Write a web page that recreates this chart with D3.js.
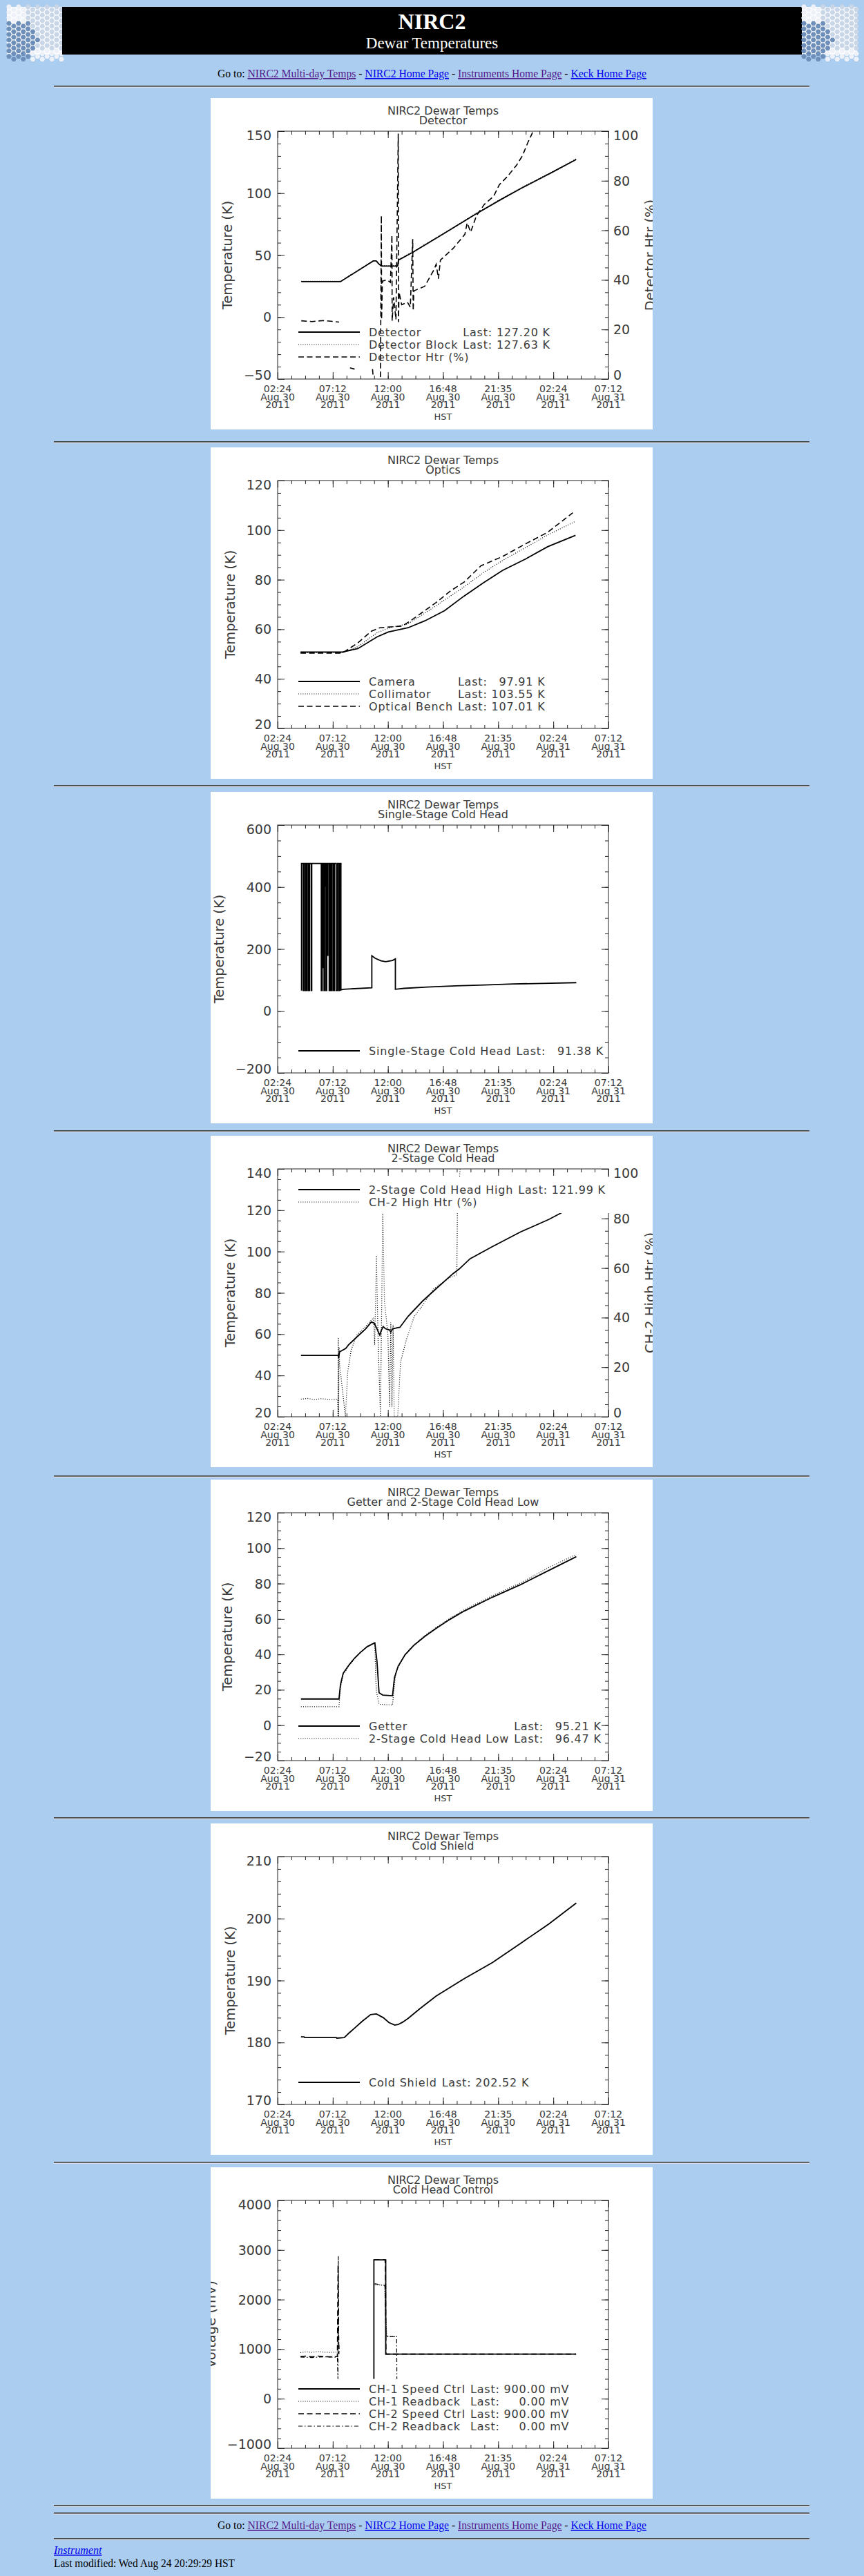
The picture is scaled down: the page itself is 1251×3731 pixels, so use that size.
<!DOCTYPE html>
<html>
<head>
<meta charset="utf-8">
<title>NIRC2 Dewar Temperatures</title>
<script src="https://cdn.jsdelivr.net/npm/d3@7"></script>
<style>
html, body { margin: 0; padding: 0; background: #abcdef; }
svg { display: block; }
.pg { font-family: "Liberation Serif", "Times New Roman", serif; }
.ch { font-family: "DejaVu Sans", sans-serif; fill: #3a3a3a; }
</style>
</head>
<body>
<svg id="page" width="1251" height="3731"></svg>
<script>
// hours after 02:24 HST, Aug 30 2011
const xTickHours = [0, 4.8, 9.6, 14.4, 19.2, 24, 28.8];
const xTickTimes = ['02:24', '07:12', '12:00', '16:48', '21:35', '02:24', '07:12'];
const xTickDays = ['Aug 30', 'Aug 30', 'Aug 30', 'Aug 30', 'Aug 30', 'Aug 31', 'Aug 31'];
const xTickYears = ['2011', '2011', '2011', '2011', '2011', '2011', '2011'];

// detector
const detectorTemp = [[2.06,28.6],[5.47,28.6],[8.33,45.3],[8.58,45.3],[8.8,43],[9.03,41.2],[10.45,41.2],[10.52,46.0],[11.76,52.2],[14.5,67.5],[17.28,83.3],[19.5,95.2],[21.26,104.2],[23.75,116.1],[25.99,127.2]];
const detectorBlockTemp = [[2.06,28.9],[5.47,28.9],[8.33,45.5],[8.58,45.4],[8.8,43.3],[9.03,41.5],[10.45,41.4],[10.52,46.3],[11.76,52.6],[14.5,67.9],[17.28,83.7],[19.5,95.6],[21.26,104.6],[23.75,116.5],[25.99,127.6]];
const detectorHtr = [[2.06,23.5],[3.0,23.2],[4.0,23.6],[5.35,23.0],null,[6.3,4.5],[6.7,4.0],null,[8.26,4.0],[8.3,1.8],null,[8.95,0.8],[9.03,66],[9.05,24],[9.12,39.5],[9.5,40],[9.82,39],[9.95,58],[9.97,23.5],[10.1,33],[10.3,24],[10.5,99],[10.52,23],[10.57,35],[10.8,30],[11.3,31],[11.55,29],[11.76,56.5],[11.8,27.6],[11.86,35.6],[12.8,37.4],[13.6,44],[13.8,46.3],[14.0,40.5],[14.17,48],[15.3,52.8],[16.3,58.4],[16.5,63],[16.8,59.3],[17.3,65.8],[18.0,70.5],[18.8,73.7],[19.3,78.4],[20.0,81.7],[20.8,86.3],[21.3,90],[21.8,95.6],[22.3,100.5]];

// optics
const cameraTemp = [[1.99,50.8],[5.64,50.8],[6.98,52.2],[8.65,56.9],[9.63,58.9],[11.35,60.6],[12.82,63.4],[14.53,67.5],[16.2,73.3],[17.9,78.7],[19.6,83.8],[21.6,88.4],[23.5,93.3],[25.93,97.9]];
const collimatorTemp = [[1.99,50.5],[5.64,50.5],[6.98,53],[8.65,58.6],[9.87,60.8],[11.35,62.2],[12.82,66.5],[14.53,71.8],[16.2,77],[17.9,82.8],[19.6,87.8],[21.6,93],[23.5,98],[25.93,103.55]];
const benchTemp = [[1.99,50.4],[5.64,50.4],[6.98,54.5],[8.16,59.2],[8.9,60.6],[10.86,61.3],[11.84,64.3],[13.8,70.8],[15.03,75.4],[16.25,79.1],[17.7,85.6],[19.6,89.4],[21.6,94.5],[23.5,99.1],[25.7,107.0]];

// single-stage cold head
const singleStageTemp = [[2.08,66],[2.08,476],[2.23,476],[2.23,66],[2.33,66],[2.33,476],[2.45,476],[2.45,66],[2.55,66],[2.55,476],[2.67,476],[2.67,66],[2.77,66],[2.77,476],[2.92,476],[2.92,66],[2.97,66],[2.97,476],[3.80,476],[3.80,66],[3.88,66],[3.88,476],[3.95,476],[3.95,140],[4.00,140],[4.00,476],[4.04,476],[4.04,66],[4.09,66],[4.09,476],[4.14,476],[4.14,403],[4.17,403],[4.17,476],[4.21,476],[4.21,66],[4.27,66],[4.27,476],[4.33,476],[4.33,180],[4.37,180],[4.37,476],[4.49,476],[4.49,66],[4.55,66],[4.55,476],[4.64,476],[4.64,66],[4.73,66],[4.73,476],[4.85,476],[4.85,66],[4.95,66],[4.95,476],[5.10,476],[5.10,66],[5.22,66],[5.22,476],[5.34,476],[5.34,66],[5.40,66],[5.40,476],[5.51,476],[5.51,68],[5.7,70],[8.2,75],[8.2,178],[8.5,170],[9.0,162],[9.4,159],[10.0,163],[10.25,168],[10.25,70],[11.0,73],[13.0,77],[15.5,81],[18.0,84],[20.5,87],[23.0,89],[26.0,91.4]];

// 2-stage cold head
const coldHeadHigh = [[2.03,49.7],[5.27,49.7],[5.3,48.5],[5.39,51.4],[5.93,53.1],[6.17,54.8],[6.91,58.7],[7.67,62.6],[8.16,65.9],[8.41,65.3],[8.65,62.6],[8.9,59.5],[9.0,61.5],[9.19,63.7],[9.39,62.6],[9.75,62.0],[9.85,61.0],[10.0,62.5],[10.4,63.1],[10.64,63.3],[11.37,68.7],[12.6,75.9],[13.8,82],[15.27,89.3],[15.8,91.5],[16.75,96.5],[18.7,102.4],[21.15,109.5],[23.6,115.5],[24.8,119],[25.98,122.0]];
const ch2HighHtr = [[2.03,7.1],[2.6,7.4],[3.2,6.9],[3.8,7.3],[4.5,7.0],[5.22,7.1],[5.25,0],[5.28,32],[5.31,0],[5.35,28],[5.4,21],[5.9,0],[6.1,18],[6.4,27],[6.9,33],[7.67,36.5],[8.16,39],[8.35,40],[8.45,29],[8.6,65],[8.75,30],[8.95,0],[9.15,82.8],[9.3,46.6],[9.45,40],[9.6,33],[9.75,4],[9.85,38],[9.95,4],[10.05,37],[10.15,0],[10.45,0],[10.7,22],[11.2,31],[11.9,40.6],[12.45,43.8],[13.6,51.7],[14.9,55.9],[15.6,57.3],[15.65,82.8],[15.9,101]];

// getter and 2-stage cold head low
const getterTemp = [[2.03,14.8],[5.34,14.8],[5.47,22.9],[5.71,29.4],[6.2,33.9],[6.69,37.8],[7.18,41],[7.79,44.3],[8.46,46.5],[8.65,35.9],[8.83,18.3],[9.15,17],[10.0,16.6],[10.17,26.8],[10.49,33.3],[11.1,39.8],[11.84,45],[12.82,50.2],[13.8,54.7],[15.03,59.9],[16.25,64.5],[18.7,72.3],[21.15,79.4],[23.6,87.4],[26.0,95.2]];
const coldHeadLow = [[2.03,10.5],[5.34,10.5],[5.45,20],[5.71,28.5],[6.2,33.5],[6.69,37.5],[7.18,41],[7.79,44.5],[8.46,46.7],[8.55,25],[8.6,19],[8.83,11.8],[10.0,11.4],[10.12,20],[10.3,30],[10.6,34],[11.1,40],[11.84,45.3],[12.82,50.6],[13.8,55.2],[15.03,60.5],[16.25,65.2],[18.7,73.2],[21.15,80.4],[23.6,89],[26.0,96.5]];

// cold shield
const coldShieldTemp = [[2.03,180.9],[2.3,180.9],[2.35,180.8],[5.1,180.8],[5.15,180.7],[5.8,180.8],[6.2,181.5],[6.69,182.3],[7.35,183.4],[8.1,184.5],[8.6,184.6],[9.2,184.0],[9.7,183.2],[10.2,182.8],[10.5,182.9],[10.9,183.3],[11.37,183.9],[12.35,185.4],[13.8,187.5],[16.25,190.3],[18.7,192.9],[21.15,196.0],[23.6,199.1],[26.0,202.5]];

// cold head control (mV)
const ch1Speed = [[8.38,400],[8.38,2800],[9.41,2800],[9.41,900],[25.98,900]];
const ch1Readback = [[1.99,930],[2.5,945],[3.0,935],[3.5,950],[4.0,940],[4.5,935],[5.2,940],null,[8.45,2300],[9.3,2290],[9.45,1500],[9.5,1260],[10.35,1250]];
const ch2Speed = [[1.99,850],[2.5,860],[3.0,845],[3.5,860],[4.0,850],[4.5,845],[5.2,850],[5.26,2700],[5.3,1400],[5.33,900],null,[8.4,2800],[9.35,2800],[9.38,2700],[9.4,2200],[9.43,900],[25.98,900]];
const ch2Readback = [[1.99,840],[3.0,830],[4.0,845],[5.2,835],[5.25,400],[5.28,2880],[5.32,1200],[5.36,900],null,[8.45,2320],[9.35,2280],[9.4,1600],[9.45,1250],[10.36,1250],[10.38,400]];

const panelTops = [142, 648, 1147, 1645, 2143, 2641, 3139];
const hrTops = [124, 639, 1137, 1637, 2137, 2632, 3131, 3628, 3639, 3676];

const navLinks = [
  { text: 'NIRC2 Multi-day Temps', color: '#551a8b' },
  { text: 'NIRC2 Home Page', color: '#0000ee' },
  { text: 'Instruments Home Page', color: '#551a8b' },
  { text: 'Keck Home Page', color: '#0000ee' }
];

const charts = [
  { title: 'Detector', y: [-50, 150], major: 50, minor: 10, yTitle: 'Temperature (K)',
    right: 'Detector Htr (%)',
    series: [
      { data: detectorTemp, style: 'solid' },
      { data: detectorBlockTemp, style: 'dotted' },
      { data: detectorHtr, style: 'dashed', right: true }
    ],
    legend: [
      { name: 'Detector', last: 127.20, unit: 'K', style: 'solid' },
      { name: 'Detector Block', last: 127.63, unit: 'K', style: 'dotted' },
      { name: 'Detector Htr (%)', style: 'dashed' }
    ] },
  { title: 'Optics', y: [20, 120], major: 20, minor: 5, yTitle: 'Temperature (K)',
    series: [
      { data: cameraTemp, style: 'solid' },
      { data: collimatorTemp, style: 'dotted' },
      { data: benchTemp, style: 'dashed' }
    ],
    legend: [
      { name: 'Camera', last: 97.91, unit: 'K', style: 'solid' },
      { name: 'Collimator', last: 103.55, unit: 'K', style: 'dotted' },
      { name: 'Optical Bench', last: 107.01, unit: 'K', style: 'dashed' }
    ] },
  { title: 'Single-Stage Cold Head', y: [-200, 600], major: 200, minor: 50, yTitle: 'Temperature (K)',
    series: [{ data: singleStageTemp, style: 'solid' }],
    legend: [{ name: 'Single-Stage Cold Head', last: 91.38, unit: 'K', style: 'solid' }] },
  { title: '2-Stage Cold Head', y: [20, 140], major: 20, minor: 5, yTitle: 'Temperature (K)',
    right: 'CH-2 High Htr (%)', legendTop: true, erase: true,
    series: [
      { data: coldHeadHigh, style: 'solid' },
      { data: ch2HighHtr, style: 'dotted', right: true }
    ],
    legend: [
      { name: '2-Stage Cold Head High', last: 121.99, unit: 'K', style: 'solid' },
      { name: 'CH-2 High Htr (%)', style: 'dotted' }
    ] },
  { title: 'Getter and 2-Stage Cold Head Low', y: [-20, 120], major: 20, minor: 5, yTitle: 'Temperature (K)',
    series: [
      { data: getterTemp, style: 'solid' },
      { data: coldHeadLow, style: 'dotted' }
    ],
    legend: [
      { name: 'Getter', last: 95.21, unit: 'K', style: 'solid' },
      { name: '2-Stage Cold Head Low', last: 96.47, unit: 'K', style: 'dotted' }
    ] },
  { title: 'Cold Shield', y: [170, 210], major: 10, minor: 2, yTitle: 'Temperature (K)',
    series: [{ data: coldShieldTemp, style: 'solid' }],
    legend: [{ name: 'Cold Shield', last: 202.52, unit: 'K', style: 'solid' }] },
  { title: 'Cold Head Control', y: [-1000, 4000], major: 1000, minor: 200, yTitle: 'Voltage (mV)',
    series: [
      { data: ch1Speed, style: 'solid' },
      { data: ch1Readback, style: 'dotted' },
      { data: ch2Speed, style: 'dashed' },
      { data: ch2Readback, style: 'dashdot' }
    ],
    legend: [
      { name: 'CH-1 Speed Ctrl', last: 900.00, unit: 'mV', style: 'solid' },
      { name: 'CH-1 Readback', last: 0.00, unit: 'mV', style: 'dotted' },
      { name: 'CH-2 Speed Ctrl', last: 900.00, unit: 'mV', style: 'dashed' },
      { name: 'CH-2 Readback', last: 0.00, unit: 'mV', style: 'dashdot' }
    ] }
];

const PW = 640, PH = 480, PX = 305;
const plot = { l: 97, r: 576, t: 48, b: 407 };
const AX = '#222';
const STYLES = {
  solid: { w: 1.8, dash: null },
  dotted: { w: 1.2, dash: '1 2.2' },
  dashed: { w: 1.6, dash: '8 4.5' },
  dashdot: { w: 1.2, dash: '6 3 1.5 3' }
};

const svg = d3.select('#page');
const defs = svg.append('defs');

function lineStyle(sel, name) {
  const s = STYLES[name];
  sel.attr('fill', 'none').attr('stroke', '#000').attr('stroke-width', s.w);
  if (s.dash) sel.attr('stroke-dasharray', s.dash);
}

function hr(y) {
  svg.append('rect').attr('x', 78).attr('y', y).attr('width', 1094).attr('height', 1).attr('fill', '#444');
  svg.append('rect').attr('x', 78).attr('y', y + 1).attr('width', 1094).attr('height', 1).attr('fill', '#777');
  svg.append('rect').attr('x', 78).attr('y', y + 2).attr('width', 1094).attr('height', 1).attr('fill', '#dde');
}

function logo(x0, y0) {
  const g = svg.append('g').attr('transform', `translate(${x0},${y0})`);
  g.append('rect').attr('width', 80).attr('height', 69).attr('fill', '#fff');
  const r = 4.6, dx = r * 1.5, dy = r * Math.sqrt(3);
  const hex = d3.range(6).map(k => [0.85 * r * Math.cos(k * Math.PI / 3), 0.85 * r * Math.sin(k * Math.PI / 3)]);
  const cells = [];
  for (let c = 0; c * dx < 82; c++) {
    for (let j = 0; j * dy < 74; j++) {
      cells.push([3 + c * dx, j * dy + (c % 2 ? dy / 2 : 0)]);
    }
  }
  g.selectAll('path').data(cells).join('path')
    .attr('transform', d => `translate(${d[0]},${d[1]})`)
    .attr('d', 'M' + hex.join('L') + 'Z')
    .attr('fill', d => {
      const [cx, cy] = d;
      if (cy > 20 && cx < 46 - Math.abs(cy - 46) * 0.55) return '#6d8fb9';
      if (cx > 26 && cy < 60) return '#c9d6e7';
      return '#eef2f8';
    });
}

function nav(y) {
  const t = svg.append('text').attr('class', 'pg').attr('x', 315).attr('y', y)
    .attr('font-size', 16).attr('textLength', 621).attr('lengthAdjust', 'spacingAndGlyphs');
  t.append('tspan').attr('fill', '#000').text('Go to: ');
  navLinks.forEach((d, i) => {
    if (i > 0) t.append('tspan').attr('fill', '#000').text(' - ');
    t.append('tspan').attr('fill', d.color).attr('text-decoration', 'underline').text(d.text);
  });
}

function drawPanel(c, k) {
  const g = svg.append('g').attr('transform', `translate(${PX},${panelTops[k]})`);
  defs.append('clipPath').attr('id', 'panel' + k).append('rect').attr('width', PW).attr('height', PH);
  defs.append('clipPath').attr('id', 'plot' + k).append('rect')
    .attr('x', plot.l).attr('y', plot.t).attr('width', plot.r - plot.l).attr('height', plot.b - plot.t);
  const p = g.append('g').attr('clip-path', `url(#panel${k})`);
  p.append('rect').attr('width', PW).attr('height', PH).attr('fill', '#fff');

  const x = d3.scaleLinear().domain([0, 28.8]).range([plot.l, plot.r]);
  const y = d3.scaleLinear().domain(c.y).range([plot.b, plot.t]);
  const y2 = d3.scaleLinear().domain([0, 100]).range([plot.b, plot.t]);
  const cx = (plot.l + plot.r) / 2, cy = (plot.t + plot.b) / 2;

  p.append('text').attr('class', 'ch').attr('font-size', 16).attr('text-anchor', 'middle')
    .attr('x', cx).attr('y', 24).text('NIRC2 Dewar Temps');
  p.append('text').attr('class', 'ch').attr('font-size', 16).attr('text-anchor', 'middle')
    .attr('x', cx).attr('y', 38).text(c.title);

  p.append('rect').attr('x', plot.l).attr('y', plot.t)
    .attr('width', plot.r - plot.l).attr('height', plot.b - plot.t)
    .attr('fill', 'none').attr('stroke', AX).attr('stroke-width', 1);

  const ticks = (axis, tr) => p.append('g').attr('transform', tr).attr('color', AX)
    .call(axis.tickFormat(''))
    .call(s => { s.select('.domain').remove(); s.selectAll('text').remove(); });

  const xMinor = d3.range(0, 28.81, 1.2);
  [[d3.axisBottom, plot.b], [d3.axisTop, plot.t]].forEach(([f, yy]) => {
    ticks(f(x).tickValues(xMinor).tickSize(-5), `translate(0,${yy})`);
    ticks(f(x).tickValues(xTickHours).tickSize(-10), `translate(0,${yy})`);
  });

  const yMaj = d3.range(c.y[0], c.y[1] + 1e-9, c.major);
  const yMin = d3.range(c.y[0], c.y[1] + 1e-9, c.minor);
  ticks(d3.axisLeft(y).tickValues(yMin).tickSize(-5), `translate(${plot.l},0)`);
  ticks(d3.axisLeft(y).tickValues(yMaj).tickSize(-10), `translate(${plot.l},0)`);
  const rScale = c.right ? y2 : y;
  const rMaj = c.right ? d3.range(0, 100.1, 20) : yMaj;
  const rMin = c.right ? d3.range(0, 100.1, 5) : yMin;
  ticks(d3.axisRight(rScale).tickValues(rMin).tickSize(-5), `translate(${plot.r},0)`);
  ticks(d3.axisRight(rScale).tickValues(rMaj).tickSize(-10), `translate(${plot.r},0)`);

  const fmt = d3.format('d');
  const shift = (i, n) => (i === 0 ? -6 : (i === n - 1 ? 6 : 0));
  const yl = p.selectAll('.yl').data(yMaj).join('text').attr('class', 'ch yl')
    .attr('font-size', 19).attr('text-anchor', 'end')
    .attr('x', plot.l - 9).attr('y', (d, i) => y(d) + 7 + shift(i, yMaj.length))
    .text(d => fmt(d));
  const labLeft = plot.l - 9 - d3.max(yl.nodes(), n => n.getComputedTextLength());
  p.append('text').attr('class', 'ch').attr('font-size', 19.5).attr('text-anchor', 'middle')
    .attr('transform', `translate(${labLeft - 17},${cy}) rotate(-90)`).text(c.yTitle);

  if (c.right) {
    p.selectAll('.rl').data(rMaj).join('text').attr('class', 'ch rl')
      .attr('font-size', 19).attr('x', plot.r + 7)
      .attr('y', (d, i) => y2(d) + 7 + shift(i, rMaj.length)).text(d => fmt(d));
    // the right title runs past the image edge and gets cut, as in the original
    p.append('text').attr('class', 'ch').attr('font-size', 19.5).attr('text-anchor', 'middle')
      .attr('transform', `translate(${PW + 3},${cy}) rotate(-90)`).text(c.right);
  }

  xTickHours.forEach((h, i) => {
    const t = p.append('text').attr('class', 'ch').attr('font-size', 14).attr('text-anchor', 'middle');
    [xTickTimes[i], xTickDays[i], xTickYears[i]].forEach((s, j) => {
      t.append('tspan').attr('x', x(h)).attr('y', plot.b + 19 + j * 11.5).text(s);
    });
  });
  p.append('text').attr('class', 'ch').attr('font-size', 13).attr('text-anchor', 'middle')
    .attr('x', cx).attr('y', plot.b + 59).text('HST');

  const lg = p.append('g').attr('clip-path', `url(#plot${k})`);
  c.series.forEach(s => {
    const sc = s.right ? y2 : y;
    const line = d3.line().defined(d => d != null).x(d => x(d[0])).y(d => sc(d[1]));
    lg.append('path').datum(s.data).attr('d', line).call(lineStyle, s.style);
  });

  if (c.erase) {
    p.append('rect').attr('x', plot.l + 22).attr('y', plot.t + 12)
      .attr('width', plot.r + 3 - plot.l - 22).attr('height', 52).attr('fill', '#fff');
  }

  // legend
  const n = c.legend.length;
  const rowY = i => (c.legendTop ? plot.t + 30 + i * 18 : plot.b - 32 - (n - 1 - i) * 18);
  const tx = plot.l + 132;
  const names = c.legend.map((d, i) => {
    p.append('line').attr('x1', plot.l + 30).attr('x2', plot.l + 119)
      .attr('y1', rowY(i)).attr('y2', rowY(i)).call(lineStyle, d.style);
    return p.append('text').attr('class', 'ch lg').attr('font-size', 16).attr('letter-spacing', 0.8)
      .attr('x', tx).attr('y', rowY(i) + 6).text(d.name);
  });
  const valued = c.legend.map((d, i) => [d, names[i]]).filter(e => e[0].last != null);
  if (valued.length) {
    const lastX = tx + d3.max(valued, e => e[1].node().getComputedTextLength()) + 7;
    const probe = p.append('text').attr('class', 'ch').attr('font-size', 16).attr('letter-spacing', 0.8)
      .text('Last: 000.00 ' + valued[0][0].unit);
    const endX = lastX + probe.node().getComputedTextLength();
    probe.remove();
    valued.forEach(([d]) => {
      const i = c.legend.indexOf(d);
      p.append('text').attr('class', 'ch').attr('font-size', 16).attr('letter-spacing', 0.8)
        .attr('x', lastX).attr('y', rowY(i) + 6).text('Last:');
      p.append('text').attr('class', 'ch').attr('font-size', 16).attr('letter-spacing', 0.8)
        .attr('text-anchor', 'end').attr('x', endX).attr('y', rowY(i) + 6)
        .text(d.last.toFixed(2) + ' ' + d.unit);
    });
  }
}

// header
logo(10, 10);
svg.append('rect').attr('x', 90).attr('y', 10).attr('width', 1071).attr('height', 69).attr('fill', '#000');
logo(1161, 10);
svg.append('text').attr('class', 'pg').attr('x', 625.5).attr('y', 42).attr('text-anchor', 'middle')
  .attr('font-size', 32).attr('font-weight', 'bold').attr('fill', '#fff').text('NIRC2');
svg.append('text').attr('class', 'pg').attr('x', 625.5).attr('y', 70).attr('text-anchor', 'middle')
  .attr('font-size', 23).attr('fill', '#fff').text('Dewar Temperatures');
nav(112);

hrTops.forEach(hr);
charts.forEach(drawPanel);

// footer
nav(3663);
svg.append('text').attr('class', 'pg').attr('x', 78).attr('y', 3699).attr('font-size', 16)
  .attr('font-style', 'italic').attr('fill', '#0000ee').attr('text-decoration', 'underline').text('Instrument');
svg.append('text').attr('class', 'pg').attr('x', 78).attr('y', 3718).attr('font-size', 16)
  .attr('textLength', 262).attr('lengthAdjust', 'spacingAndGlyphs')
  .attr('fill', '#000').text('Last modified: Wed Aug 24 20:29:29 HST');
</script>
</body>
</html>
